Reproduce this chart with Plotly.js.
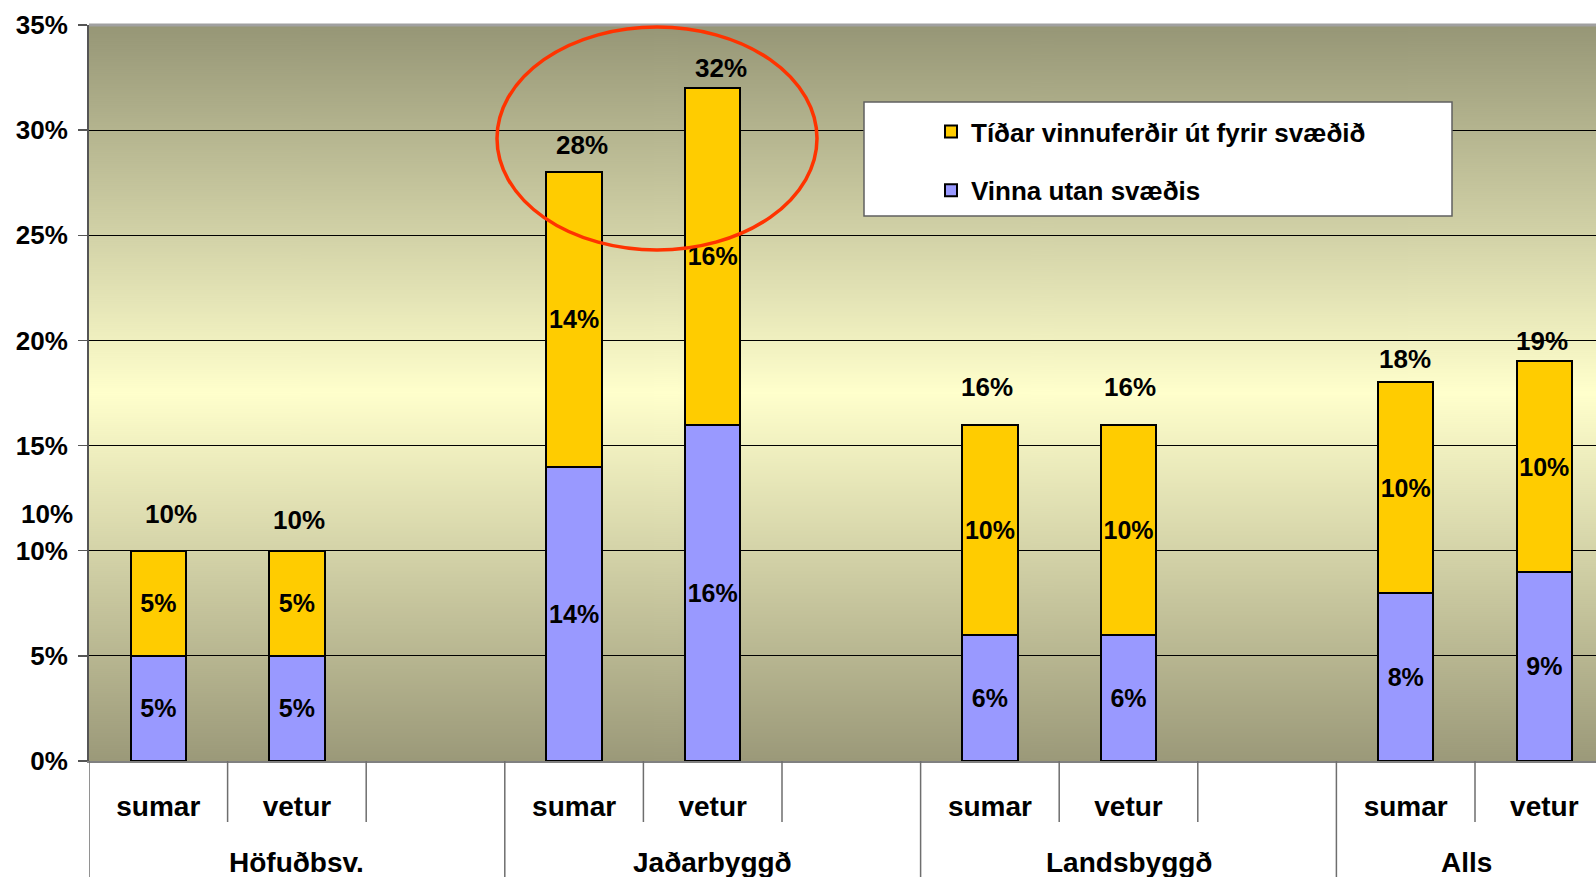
<!DOCTYPE html>
<html>
<head>
<meta charset="utf-8">
<script src="https://cdn.plot.ly/plotly-3.0.1.min.js"></script>
<style>html,body{margin:0;padding:0;background:#fff;}#chart{width:1596px;height:877px;}</style>
</head>
<body>
<div id="chart"></div>
<script>
// ---- data ----
const groups = ['Höfuðbsv.', 'Jaðarbyggð', 'Landsbyggð', 'Alls'];
const seasons = ['sumar', 'vetur'];
const seriesNames = ['Vinna utan svæðis', 'Tíðar vinnuferðir út fyrir svæðið'];
// values in the order: group0 sumar, group0 vetur, group1 sumar, ...
const vinnaUtan = [5, 5, 14, 16, 6, 6, 8, 9];
const tidarFerdir = [5, 5, 14, 16, 10, 10, 10, 10];
const totals = [10, 10, 28, 32, 16, 16, 18, 19];
const yTicks = [0, 5, 10, 15, 20, 25, 30, 35];

// ---- layout helpers (positions / styles) ----
const slotsPerGroup = 3;
const slotPx = 138.6, plotLeft = 89, plotTop = 25, plotBottom = 761, W = 1596, H = 877;
const xEnd = -0.5 + (W - plotLeft) / slotPx;
const plotH = plotBottom - plotTop;
const pyToPaper = py => (plotBottom - py) / plotH;
const pxToPaper = px => (px - plotLeft) / (W - plotLeft);

const xPos = [];
const xLab = [];
groups.forEach((g, gi) => seasons.forEach((s, si) => { xPos.push(gi * slotsPerGroup + si); xLab.push(s); }));

const FONT = 'Liberation Sans, Arial, Helvetica, sans-serif';
const totalShiftY = [37, 31, 27, 20, 38, 38, 23, 20];
const totalShiftX = [13, 2, 8, 8, -3, 1, -1, -2];

// gradient background image
const cv = document.createElement('canvas');
cv.width = 4; cv.height = 736;
const ctx = cv.getContext('2d');
const grad = ctx.createLinearGradient(0, 0, 0, 736);
grad.addColorStop(0, '#969676');
grad.addColorStop(0.5, '#ffffcc');
grad.addColorStop(1, '#9b9979');
ctx.fillStyle = grad;
ctx.fillRect(0, 0, 4, 736);
const bgSrc = cv.toDataURL();

const traces = [
  {
    type: 'bar', name: seriesNames[0], x: xPos, y: vinnaUtan,
    text: vinnaUtan.map(v => v + '%'), textposition: 'inside', insidetextanchor: 'middle',
    textangle: 0, constraintext: 'none', cliponaxis: false,
    textfont: {family: FONT, size: 25, weight: 'bold', color: '#000'},
    marker: {color: '#9999ff', line: {color: '#000', width: 2}},
    width: 0.4, legendgroup: 'b', legendrank: 2, hoverinfo: 'skip'
  },
  {
    type: 'bar', name: seriesNames[1], x: xPos, y: tidarFerdir,
    text: tidarFerdir.map(v => v + '%'), textposition: 'inside', insidetextanchor: 'middle',
    textangle: 0, constraintext: 'none', cliponaxis: false,
    textfont: {family: FONT, size: 25, weight: 'bold', color: '#000'},
    marker: {color: '#ffcc00', line: {color: '#000', width: 2}},
    width: 0.4, legendgroup: 'a', legendrank: 1, hoverinfo: 'skip'
  }
];

const annotations = totals.map((t, i) => ({
  x: xPos[i], y: t, xref: 'x', yref: 'y', text: t + '%', showarrow: false,
  xshift: totalShiftX[i], yshift: totalShiftY[i], yanchor: 'middle',
  font: {family: FONT, size: 26, weight: 'bold', color: '#000'}
}));
// stray label on the left side
annotations.push({
  x: pxToPaper(75), y: totals[0], xref: 'paper', yref: 'y', text: totals[0] + '%', showarrow: false,
  xanchor: 'right', yanchor: 'middle', yshift: totalShiftY[0],
  font: {family: FONT, size: 26, weight: 'bold', color: '#000'}
});
// group labels
groups.forEach((g, gi) => {
  const lo = gi * slotsPerGroup - 0.5, hi = Math.min(lo + slotsPerGroup, xEnd);
  annotations.push({
    x: (lo + hi) / 2, y: pyToPaper(862), xref: 'x', yref: 'paper', text: g, showarrow: false,
    yanchor: 'middle', font: {family: FONT, size: 28, weight: 'bold', color: '#000'}
  });
});

const shapes = [];
// category divider lines below the axis
for (let gi = 0; gi < groups.length; gi++) {
  const b = gi * slotsPerGroup - 0.5;
  shapes.push({type: 'line', xref: 'x', yref: 'paper', x0: b, x1: b, y0: 0, y1: pyToPaper(H + 5),
    line: {color: '#6e6e6e', width: 1.5}});
  for (let k = 1; k < slotsPerGroup; k++) {
    if (b + k <= xEnd) shapes.push({type: 'line', xref: 'x', yref: 'paper', x0: b + k, x1: b + k, y0: 0, y1: pyToPaper(822),
      line: {color: '#6e6e6e', width: 1.5}});
  }
}
// top border of plot area
shapes.push({type: 'line', xref: 'paper', yref: 'paper', x0: 0, x1: 1, y0: 1, y1: 1, line: {color: '#a0a0a0', width: 3}});
// legend box
shapes.push({type: 'rect', xref: 'paper', yref: 'paper', x0: pxToPaper(864), x1: pxToPaper(1452),
  y0: pyToPaper(216), y1: pyToPaper(102), fillcolor: '#ffffff', line: {color: '#606060', width: 1.5}, layer: 'above'});
// red highlight ellipse
shapes.push({type: 'circle', xref: 'paper', yref: 'paper', x0: pxToPaper(497), x1: pxToPaper(817),
  y0: pyToPaper(250), y1: pyToPaper(27), line: {color: '#ff3300', width: 3.5}, layer: 'above'});

const layout = {
  width: W, height: H,
  margin: {l: plotLeft, r: 0, t: plotTop, b: H - plotBottom, pad: 0},
  paper_bgcolor: '#ffffff', plot_bgcolor: 'rgba(0,0,0,0)',
  barmode: 'stack', bargap: 0,
  showlegend: true,
  legend: {
    x: pxToPaper(931), y: pyToPaper(108), xanchor: 'left', yanchor: 'top',
    bgcolor: 'rgba(0,0,0,0)', borderwidth: 0, traceorder: 'grouped', tracegroupgap: 22,
    font: {family: FONT, size: 26, weight: 'bold', color: '#000'}
  },
  xaxis: {
    type: 'linear', range: [-0.5, xEnd], fixedrange: true,
    tickmode: 'array', tickvals: xPos, ticktext: xLab, ticks: '',
    showgrid: false, zeroline: false, showline: true, linecolor: '#808080', linewidth: 2,
    ticklabelstandoff: 19,
    tickfont: {family: FONT, size: 28, weight: 'bold', color: '#000'}
  },
  yaxis: {
    range: [0, 35], tickmode: 'array', tickvals: yTicks, ticktext: yTicks.map(v => v + '%'),
    ticks: 'outside', ticklen: 9, tickwidth: 1.5, tickcolor: '#555',
    showline: true, linecolor: '#555', linewidth: 2, showgrid: true, gridcolor: '#000', gridwidth: 1,
    zeroline: false, ticklabelstandoff: 5, fixedrange: true,
    tickfont: {family: FONT, size: 26, weight: 'bold', color: '#000'}
  },
  images: [{source: bgSrc, xref: 'paper', yref: 'paper', x: 0, y: 1, sizex: 1, sizey: 1,
    sizing: 'stretch', xanchor: 'left', yanchor: 'top', layer: 'below'}],
  annotations: annotations,
  shapes: shapes
};

Plotly.newPlot('chart', traces, layout, {displayModeBar: false, staticPlot: true});
</script>
</body>
</html>
